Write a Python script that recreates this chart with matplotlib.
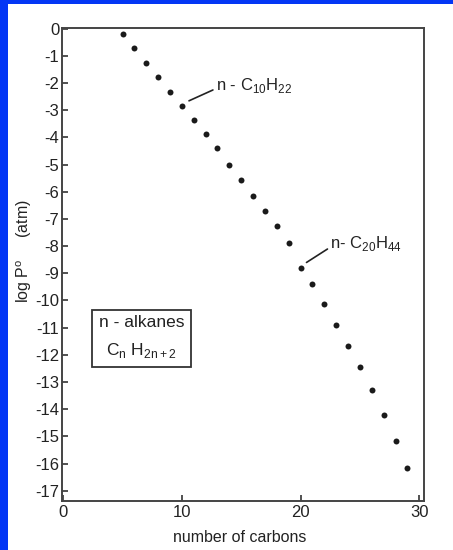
import matplotlib
matplotlib.use("Agg")
import matplotlib.pyplot as plt
from matplotlib.patches import Rectangle

carbons = list(range(5, 30))
log_p = [-0.19, -0.70, -1.27, -1.79, -2.31, -2.83, -3.35, -3.89, -4.40, -5.00,
         -5.57, -6.16, -6.71, -7.27, -7.88, -8.81, -9.40, -10.13, -10.89, -11.68,
         -12.44, -13.31, -14.22, -15.18, -16.17]
y_ticks = list(range(0, -18, -1))
x_ticks = [0, 10, 20, 30]

plt.rcParams['font.family'] = ['Liberation Sans Narrow', 'Liberation Sans', 'DejaVu Sans']

W, H = 453, 550
fig = plt.figure(figsize=(W / 100, H / 100), dpi=100, facecolor='#0336F5')
fig.patches.append(Rectangle((8 / W, 0), 1 - 8 / W, 1 - 4 / H, transform=fig.transFigure,
                             facecolor='white', edgecolor='none', zorder=-10))

ax = fig.add_axes([62 / W, 1 - 501 / H, (424 - 62) / W, (501 - 28) / H])
ax.set_zorder(1)
ax.set_facecolor('white')
ax.plot(carbons, log_p, 'o', color='#1a1a1a', markersize=4.3, markeredgewidth=0)

ax.set_xlim(-0.1, 30.4)
ax.set_ylim(-17.38, 0.03)
ax.set_xticks(x_ticks)
ax.set_yticks(y_ticks)
ax.set_yticklabels([str(v) for v in y_ticks])
ax.tick_params(direction='in', length=4, width=1.2, color='#333333', labelsize=12,
               labelcolor='#222222')
ax.tick_params(axis='y', pad=2)
ax.tick_params(axis='x', pad=3)
for s in ax.spines.values():
    s.set_linewidth(1.4)
    s.set_color('#444444')

ax.annotate(r'n - C$_\mathregular{10}$H$_\mathregular{22}$', xy=(10.6, -2.65), xytext=(12.85, -2.1),
            fontsize=12, color='#222222', va='center', ha='left',
            arrowprops=dict(arrowstyle='-', color='#222222', lw=1.2, shrinkA=0, shrinkB=0,
                            relpos=(0, 0.35)))
ax.annotate(r'n- C$_\mathregular{20}$H$_\mathregular{44}$', xy=(20.5, -8.6), xytext=(22.5, -7.9),
            fontsize=12, color='#222222', va='center', ha='left',
            arrowprops=dict(arrowstyle='-', color='#222222', lw=1.2, shrinkA=0, shrinkB=0,
                            relpos=(0, 0.3)))

ax.text(6.6, -11.36, 'n - alkanes\n' + r'C$_\mathregular{n}$ H$_\mathregular{2n+2}$',
        fontsize=12.5, color='#222222', ha='center', va='center', linespacing=1.75,
        bbox=dict(boxstyle='square,pad=0.4', facecolor='white', edgecolor='#333333', lw=1.3))

fig.text(24 / W, 1 - 251 / H, r'log P$^\mathregular{o}$     (atm)', rotation=90,
         ha='center', va='center', fontsize=11.5, color='#222222')
fig.text(240 / W, 1 - 538 / H, 'number of carbons', ha='center', va='center',
         fontsize=11.5, color='#222222')

fig.savefig('out.png', dpi=100, facecolor=fig.get_facecolor())
